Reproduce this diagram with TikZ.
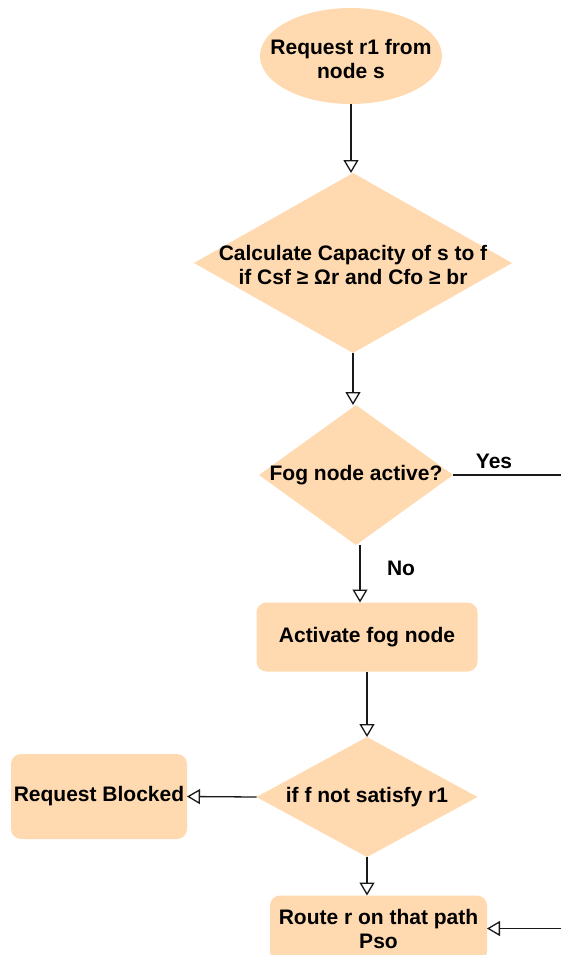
\documentclass[tikz,border=0pt]{standalone}
\usepackage{fontspec}
\setmainfont{Liberation Sans}
\usetikzlibrary{shapes.geometric,arrows.meta}
\definecolor{peach}{RGB}{255,218,176}
\begin{document}
\begin{tikzpicture}[x=1pt,y=-1pt,
  every node/.style={font=\fontsize{21}{24}\selectfont\bfseries, outer sep=0pt},
  box/.style={rectangle, rounded corners=10pt, fill=peach, draw=none, align=center, inner sep=2pt},
  dia/.style={diamond, fill=peach, inner sep=0pt},
  oval/.style={ellipse, fill=peach, inner sep=0pt},
  txt/.style={align=center, inner sep=0pt},
  conn/.style={line width=1.3pt, draw=black!90},
  arr/.style={conn, -{Triangle[open,length=13pt,width=15pt]}}]
\clip (0,0) rectangle (561,955);
\useasboundingbox (0,0) rectangle (561,955);
\coordinate (rightedge) at (561,0);

\node[oval, minimum width=182pt, minimum height=96pt,
  label={[txt,yshift=-3pt]center:{Request r1 from\\node s}}] (start) at (351,56) {};
\node[dia, minimum width=318pt, minimum height=180pt,
  label={[txt,yshift=-2pt]center:{Calculate Capacity of s to f\\if Csf ≥ Ωr and Cfo ≥ br}}] (calc) at (353,263) {};
\node[dia, minimum width=194pt, minimum height=140pt,
  label={[txt]center:{Fog node active?}}] (active) at (356,475) {};
\node[box, minimum width=221pt, minimum height=69pt] (act) at (367,637) {\raisebox{-3pt}{Activate fog node}};
\node[dia, minimum width=221pt, minimum height=120pt,
  label={[txt]center:{if f not satisfy r1}}] (sat) at (367,797) {};
\node[box, minimum width=176pt, minimum height=85pt] (blocked) at (99,796.5) {\raisebox{-4pt}{Request Blocked}};
\node[box, minimum width=217pt, minimum height=66pt] (route) at (378.5,928.5) {Route r on that path\\Pso};

\draw[arr] (start.south) -- (start.south |- calc.north);
\draw[arr] (calc.south) -- (calc.south |- active.north);
\draw[conn] (active.east) -- (active.east -| rightedge);
\node at (494,461) (yes) {Yes};
\draw[arr] ([xshift=4pt]active.south) -- ([xshift=4pt]active.south |- act.north);
\node at (401,568) (no) {No};
\draw[arr] (act.south) -- (sat.north);
\draw[arr] (sat.west) -- (blocked.east);
\draw[arr] (sat.south) -- (sat.south |- route.north);
\draw[arr] (route.east -| rightedge) -- (route.east);
\end{tikzpicture}
\end{document}
